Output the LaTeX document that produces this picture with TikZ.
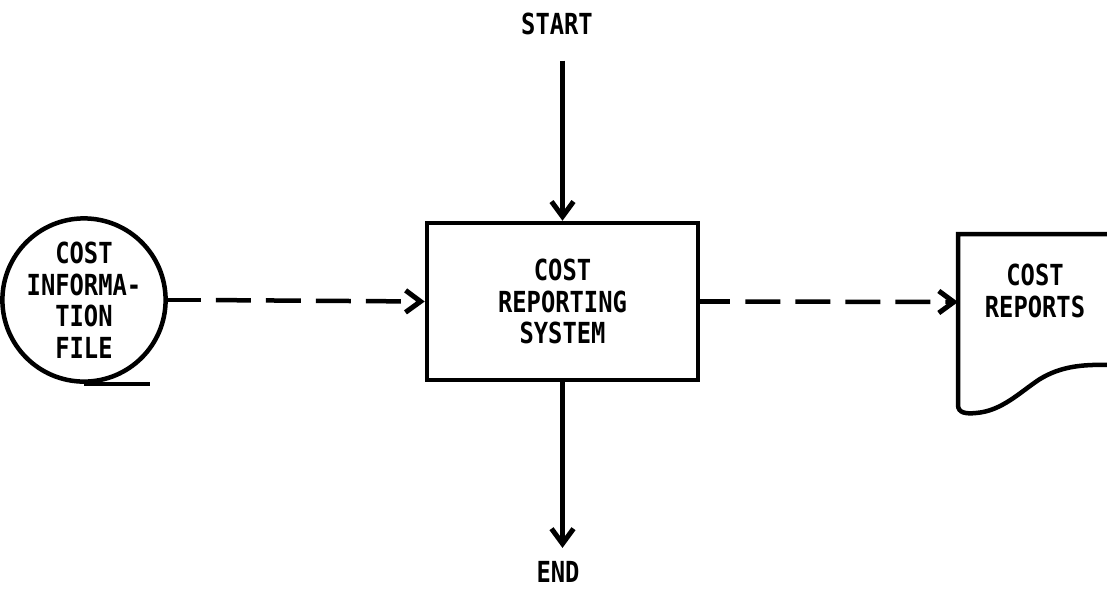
\documentclass[tikz,border=0pt]{standalone}
\usepackage{fontspec}
\usepackage{tikz}
\usetikzlibrary{arrows.meta}
\newfontfamily\flowfont[FakeStretch=0.82]{DejaVu Sans Mono Bold}

\begin{document}
\begin{tikzpicture}[x=1pt,y=-1pt,
  every node/.style={font=\flowfont\fontsize{29}{31.5}\selectfont, align=center},
  flowline/.style={line width=4.5pt},
  flowarrow/.style={line width=4.5pt, -{Straight Barb[length=15pt,width=22pt,line width=5pt]}},
  dashline/.style={dash pattern=on 35pt off 15pt, dash phase=35pt}]
\useasboundingbox (0,0) rectangle (1107,590);
\node[draw, flowline, minimum width=271pt, minimum height=157pt] (sys) at (562.5,301.5) {COST\\REPORTING\\SYSTEM};
\node[draw, flowline, circle, minimum size=152pt, inner sep=0pt] (info) at (84,300) {COST\\INFORMA-\\TION\\FILE};
\node (start) at (557,24) {START};
\node (finish) at (558,572) {END};
\node (reports) at (1035,291) {COST\\REPORTS};
\coordinate (docin) at (958,302);
% tape tail
\draw[flowline] (info.south) -- ++(66,0);
% report sheet
\draw[flowline] (1112,234) -- (958,234) -- (958,405)
  .. controls (958,413) and (966,414) .. (976,413)
  .. controls (1002,411) and (1020,392) .. (1040,379)
  .. controls (1060,367) and (1080,364) .. (1112,365);
% flows
\draw[flowarrow, shorten <=22pt] (start.south -| sys.north) -- (sys.north);
\draw[flowarrow, shorten >=10pt] (sys.south) -- (sys.south |- finish.north);
\draw[flowline] (info.east) -- ++(33,0) coordinate (infoout);
\draw[flowarrow, dashline] (infoout) -- (sys.west);
\draw[flowline] (sys.east) -- ++(30,0) coordinate (sysout);
\draw[flowarrow, dashline] (sysout) -- (docin);
\end{tikzpicture}
\end{document}
